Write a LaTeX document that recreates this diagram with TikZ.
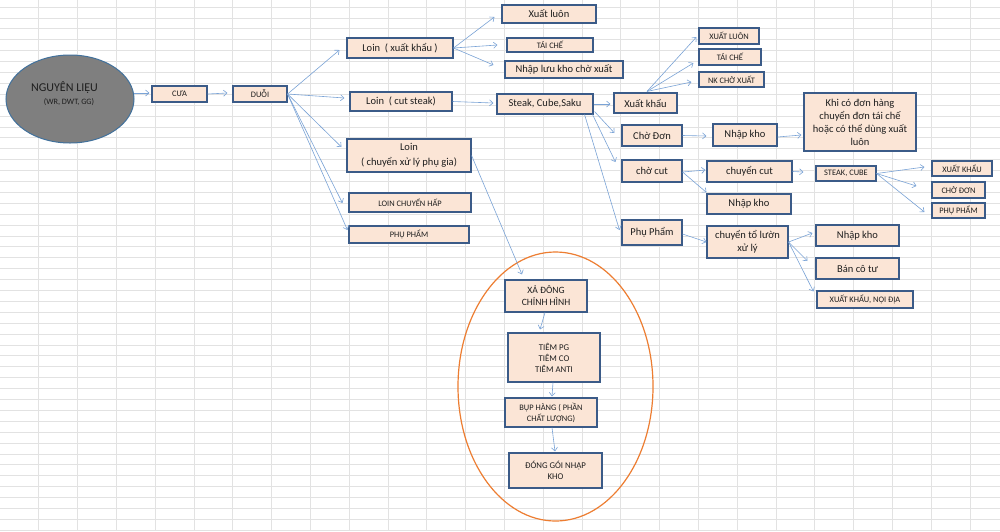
\documentclass[tikz,border=0pt]{standalone}
\usepackage{fontspec}
\setmainfont{Carlito}
\usetikzlibrary{arrows.meta,shapes.geometric}
\definecolor{boxfill}{HTML}{FBE5D6}
\definecolor{boxline}{HTML}{3B5B88}
\definecolor{arrowc}{HTML}{7AA3D6}
\definecolor{gridc}{HTML}{E2E2E2}
\definecolor{orangec}{HTML}{ED7D31}
\definecolor{grayfill}{HTML}{7F7F7F}
\definecolor{ellline}{HTML}{41719C}
\definecolor{txt}{HTML}{1E1E1E}
\begin{document}
\begin{tikzpicture}[x=1pt,y=-1pt,
  box/.style={draw=boxline, line width=1.1pt, fill=boxfill, inner sep=0pt, align=center,
    text=txt, font=\fontsize{10.5}{13}\selectfont},
  sbox/.style={box, font=\fontsize{8.4}{11}\selectfont},
  sz/.style 2 args={minimum width=#1pt, minimum height=#2pt},
  arr/.style={draw=arrowc, line width=0.6pt, -{Straight Barb[length=3.5pt,width=6pt]}}]
\useasboundingbox (0,0) rectangle (1000,531);
\fill[white] (0,0) rectangle (1000,531);
% spreadsheet grid
\foreach \i in {1,...,25} \draw[gridc, line width=0.8pt] (38.8*\i,0) -- (38.8*\i,531);
\foreach \j in {0,...,48} \draw[gridc, line width=0.8pt] (0,7+10.9*\j) -- (1000,7+10.9*\j);

% raw material ellipse
\node[ellipse, draw=ellline, line width=1pt, fill=grayfill, sz={128}{88}, inner sep=0pt] (nl) at (70,99) {};
\node[text=txt, font=\fontsize{12}{14}\selectfont, inner sep=0pt] (nlt) at ([shift={(-5.5,-11)}]nl.center) {NGUYÊN LIỆU};
\node[text=txt, font=\fontsize{8.2}{9}\selectfont, inner sep=0pt] (nls) at ([shift={(-1,3)}]nl.center) {(WR, DWT, GG)};

% orange group ellipse
\node[ellipse, draw=orangec, line width=1.2pt, sz={195}{269}, inner sep=0pt] (grp) at (555.5,386.5) {};

% nodes
\node[sbox, sz={55}{16}] (cua) at (179.5,94) {CƯA};
\node[sbox, sz={54}{16}] (duoi) at (260,94) {DUỖI};
\node[box, sz={106}{20}] (loinxk) at (400,48) {Loin~ ( xuất khẩu )};
\node[box, sz={94}{18}] (xluon) at (549,14) {Xuất luôn};
\node[sbox, sz={86}{14}] (taiche1) at (550,45) {TÁI CHẾ};
\node[box, sz={118}{17}] (nhapluu) at (564,69.5) {Nhập lưu kho chờ xuất};
\node[box, sz={102}{19}] (loincut) at (401,101.5) {Loin~ ( cut steak)};
\node[box, sz={96}{20}] (steak) at (545,104) {Steak, Cube,Saku};
\node[box, sz={124}{33}, font=\fontsize{10.5}{14.5}\selectfont] (loinpg) at (409,155.5) {Loin\\( chuyển xử lý phụ gia)};
\node[sbox, sz={122}{19}] (loinhap) at (410,202.5) {LOIN CHUYỂN HẤP};
\node[sbox, sz={120}{17}] (pp1) at (409,234.5) {PHỤ PHẨM};

\node[box, sz={63}{20}] (xk) at (645.5,103) {Xuất khẩu};
\node[sbox, sz={60}{16}] (xluon2) at (729,36) {XUẤT LUÔN};
\node[sbox, sz={62}{16}] (taiche2) at (730,57) {TÁI CHẾ};
\node[sbox, sz={65}{15}] (nkcho) at (731.5,79.5) {NK CHỜ XUẤT};
\node[box, sz={60}{21}] (chodon) at (652,135.5) {Chờ Đơn};
\node[box, sz={64}{22}] (nk1) at (745,135) {Nhập kho};
\node[box, sz={112}{58}] (khico) at (860,122) {Khi có đơn hàng\\chuyển đơn tái chế\\hoặc có thể dùng xuất\\luôn};
\node[box, sz={60}{22}] (chocut) at (652,171) {chờ cut};
\node[box, sz={85}{21}] (chuyencut) at (749.5,171.5) {chuyển cut};
\node[box, sz={84}{20}] (nk2) at (749,204) {Nhập kho};
\node[sbox, sz={60}{15}] (sc) at (846,173.5) {STEAK, CUBE};
\node[sbox, sz={60}{15}] (xk2) at (962,168.5) {XUẤT KHẨU};
\node[sbox, sz={53}{16}] (chodon2) at (958.5,190) {CHỜ ĐƠN};
\node[sbox, sz={53}{15}] (pp2) at (958.5,210.5) {PHỤ PHẨM};
\node[box, sz={60}{25}] (ppb) at (652,232.5) {Phụ Phẩm};
\node[box, sz={81}{32}] (cto) at (747.5,242) {chuyển tổ lườn\\xử lý};
\node[box, sz={83}{21}] (nk3) at (857.5,235.5) {Nhập kho};
\node[box, sz={83}{21}] (bct) at (857.5,268.5) {Bán cô tư};
\node[sbox, sz={96}{17}] (xknd) at (865,299.5) {XUẤT KHẨU, NỘI ĐỊA};

\node[sbox, sz={82}{32}, font=\fontsize{9.6}{12}\selectfont] (xadong) at (546,296) {XẢ ĐÔNG\\CHỈNH HÌNH};
\node[sbox, sz={92}{49}, font=\fontsize{8.8}{11}\selectfont] (tiem) at (554,357.5) {TIÊM PG\\TIÊM CO\\TIÊM ANTI};
\node[sbox, sz={92}{29}, font=\fontsize{8.4}{11}\selectfont] (bup) at (551,412.5) {BỤP HÀNG ( PHẦN\\CHẤT LƯỢNG)};
\node[sbox, sz={93}{35}, font=\fontsize{8.8}{10.5}\selectfont] (donggoi) at (555.5,470.5) {ĐÓNG GÓI NHẬP\\KHO};

% connectors
\draw[arr] ([shift={(-1,-6)}]nl.east) -- ([shift={(-2,-1)}]cua.west);
\draw[arr] (cua.east) -- ([shift={(-5,-1)}]duoi.west);
\draw[arr] (duoi.east) -- ([shift={(-7,2)}]loinxk.west);
\draw[arr] (duoi.east) -- ([shift={(-5,-3.5)}]loincut.west);
\draw[arr] (duoi.east) -- ([shift={(-5,-8.5)}]loinpg.west);
\draw[arr] (duoi.east) -- ([shift={(-6,0.5)}]loinhap.west);
\draw[arr] (duoi.east) -- ([shift={(-1,-4.5)}]pp1.west);
\draw[arr] (loinxk.east) -- ([shift={(-7,3)}]xluon.west);
\draw[arr] (loinxk.east) -- ([shift={(-9,0)}]taiche1.west);
\draw[arr] (loinxk.east) -- ([shift={(-11,-4.5)}]nhapluu.west);
\draw[arr] (loincut.east) -- ([shift={(-3,-1)}]steak.west);
\draw[arr] (steak.east) -- ([shift={(-3,1)}]xk.west);
\draw[arr] ([shift={(1,-3)}]steak.south east) -- ([shift={(-7,-2.5)}]chodon.west);
\draw[arr] ([shift={(-1,0)}]steak.south east) -- ([shift={(-6,-9)}]chocut.west);
\draw[arr] ([shift={(-9,0)}]steak.south east) -- ([shift={(-2,-2.5)}]ppb.west);
\draw[arr] ([shift={(1.5,-1)}]xk.north) -- ([shift={(-2,1)}]xluon2.west);
\draw[arr] ([shift={(1.5,-1)}]xk.north) -- ([shift={(-5,6)}]taiche2.west);
\draw[arr] ([shift={(1.5,-1)}]xk.north) -- ([shift={(-7,2.5)}]nkcho.west);
\draw[arr] (chodon.east) -- ([shift={(-6,1)}]nk1.west);
\draw[arr] ([shift={(0,2)}]nk1.east) -- ([shift={(-2,13)}]khico.west);
\draw[arr] ([shift={(0,1)}]chocut.east) -- ([shift={(-1,-1.5)}]chuyencut.west);
\draw[arr] ([shift={(0,1)}]chocut.east) -- ([shift={(0,-1)}]nk2.north west);
\draw[arr] (chuyencut.east) -- ([shift={(-12,-1.5)}]sc.west);
\draw[arr] (sc.east) -- ([shift={(-7,-1.5)}]xk2.west);
\draw[arr] (sc.east) -- ([shift={(-15,-4)}]chodon2.west);
\draw[arr] (sc.east) -- ([shift={(-7,1.5)}]pp2.west);
\draw[arr] ([shift={(0,1.5)}]ppb.east) -- (cto.west);
\draw[arr] (cto.east) -- ([shift={(-3,-2.5)}]nk3.west);
\draw[arr] (cto.east) -- ([shift={(-8,-7.5)}]bct.west);
\draw[arr] (cto.east) -- ([shift={(-3,1)}]xknd.north west);
\draw[arr] (loinpg.east) -- ([shift={(-24,-5)}]xadong.north);
\draw[arr] ([shift={(-1,0)}]xadong.south) -- ([shift={(-14,-3)}]tiem.north);
\draw[arr] ([shift={(-1,0)}]tiem.south) -- ([shift={(1,-1)}]bup.north);
\draw[arr] ([shift={(1,0)}]bup.south) -- ([shift={(-0.5,-1)}]donggoi.north);
\end{tikzpicture}
\end{document}
